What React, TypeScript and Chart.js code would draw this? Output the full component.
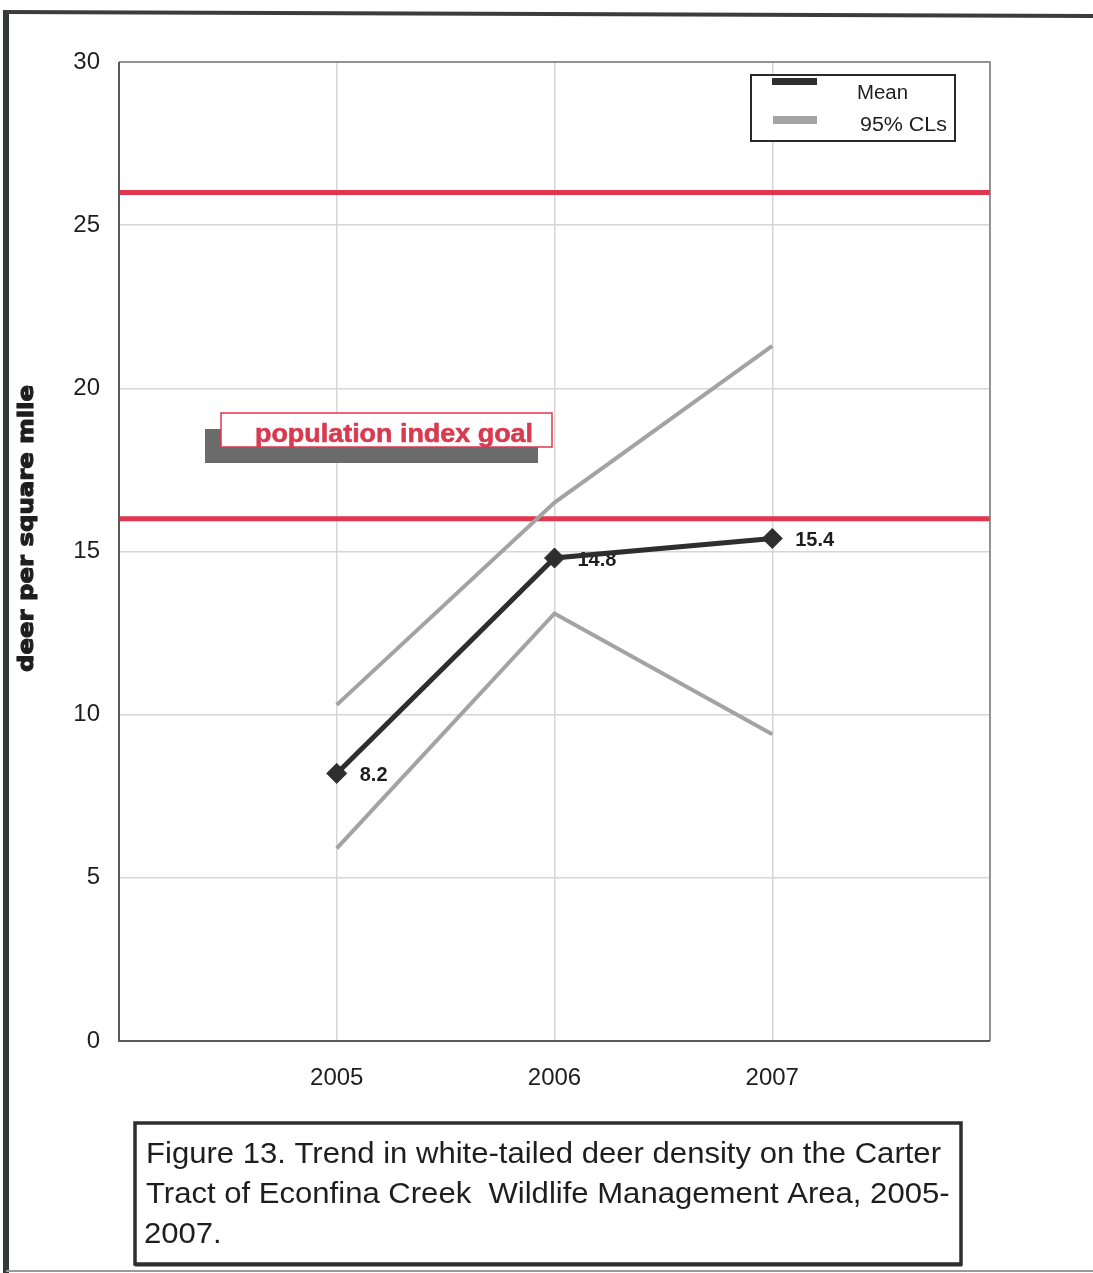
import React, { useEffect, useRef } from "react";
import { Chart, registerables } from "chart.js";

Chart.register(...registerables);

// ---------- data ----------
const YEARS = [2005, 2006, 2007];
const MEAN = [8.2, 14.8, 15.4];
const UPPER_CL = [10.3, 16.5, 21.3];
const LOWER_CL = [5.9, 13.1, 9.4];
const GOAL_LINES = [26, 16];
const X_RANGE = [2004, 2008];
const Y_RANGE = [0, 30];
const Y_STEP = 5;
const LEGEND_LABELS = ["Mean", "95% CLs"];
const Y_TITLE = "deer per square mile";
const GOAL_LABEL = "population index goal";
const CAPTION_LINES = [
  "Figure 13. Trend in white-tailed deer density on the Carter",
  "Tract of Econfina Creek  Wildlife Management Area, 2005-",
  "2007.",
];

// ---------- styles ----------
const FONT = "'Liberation Sans', Arial, Helvetica, sans-serif";
const MEAN_COLOR = "#2e2e2e";
const CL_COLOR = "#a3a3a3";
const RED = "#e2364f";
const TEXT = "#1e1e1e";
const W = 1093;
const H = 1273;

function fitText(
  ctx: CanvasRenderingContext2D,
  text: string,
  x: number,
  y: number,
  width: number,
  font: string,
  color: string,
  strokeW = 0
) {
  ctx.save();
  ctx.font = font;
  ctx.fillStyle = color;
  ctx.strokeStyle = color;
  ctx.textAlign = "left";
  ctx.textBaseline = "alphabetic";
  const w = ctx.measureText(text).width;
  ctx.translate(x, y);
  ctx.scale(width / w, 1);
  ctx.fillText(text, 0, 0);
  if (strokeW > 0) {
    ctx.lineWidth = strokeW;
    ctx.lineJoin = "round";
    ctx.strokeText(text, 0, 0);
  }
  ctx.restore();
}

const decorPlugin = {
  id: "decor",
  beforeDraw(chart: any) {
    const ctx = chart.ctx;
    ctx.save();
    ctx.fillStyle = "#ffffff";
    ctx.fillRect(0, 0, W, H);
    ctx.restore();
  },
  beforeDatasetsDraw(chart: any) {
    // value labels for the mean series (drawn under the line)
    const ctx = chart.ctx;
    const meta = chart.getDatasetMeta(0);
    ctx.save();
    ctx.font = `bold 20px ${FONT}`;
    ctx.fillStyle = TEXT;
    ctx.textAlign = "left";
    ctx.textBaseline = "middle";
    meta.data.forEach((pt: any, i: number) => {
      ctx.fillText(MEAN[i].toFixed(1), pt.x + 23, pt.y + 2);
    });
    ctx.restore();
  },
  afterDatasetsDraw(chart: any) {
    const ctx = chart.ctx;
    // goal label box with shadow
    ctx.save();
    ctx.fillStyle = "#6b6b6b";
    ctx.fillRect(205, 429, 333, 34);
    ctx.fillStyle = "#ffffff";
    ctx.fillRect(221, 413, 331, 34);
    ctx.strokeStyle = RED;
    ctx.lineWidth = 1.5;
    ctx.strokeRect(221, 413, 331, 34);
    ctx.restore();
    fitText(ctx, GOAL_LABEL, 255, 442, 278, `bold 26px ${FONT}`, "#d83a50", 0.6);
  },
  afterDraw(chart: any) {
    const ctx = chart.ctx;
    const a = chart.chartArea;
    // plot border
    ctx.save();
    ctx.strokeStyle = "#7a7a7a";
    ctx.lineWidth = 1.5;
    ctx.beginPath();
    ctx.moveTo(a.left, a.top);
    ctx.lineTo(a.right, a.top);
    ctx.lineTo(a.right, a.bottom);
    ctx.stroke();
    ctx.strokeStyle = "#5a5a5a";
    ctx.lineWidth = 2;
    ctx.beginPath();
    ctx.moveTo(a.left, a.top);
    ctx.lineTo(a.left, a.bottom);
    ctx.lineTo(a.right, a.bottom);
    ctx.stroke();
    ctx.restore();

    // legend
    ctx.save();
    ctx.fillStyle = "#ffffff";
    ctx.fillRect(751, 75, 204, 66);
    ctx.strokeStyle = "#2a2a2a";
    ctx.lineWidth = 2;
    ctx.strokeRect(751, 75, 204, 66);
    const ds = chart.data.datasets;
    ctx.fillStyle = ds[0].borderColor;
    ctx.fillRect(772, 78, 45, 7);
    ctx.fillStyle = ds[1].borderColor;
    ctx.fillRect(773, 116, 44, 8);
    ctx.restore();
    fitText(ctx, LEGEND_LABELS[0], 857, 99, 51, `20px ${FONT}`, TEXT);
    fitText(ctx, LEGEND_LABELS[1], 860, 131, 87, `20px ${FONT}`, TEXT);

    // y axis title
    ctx.save();
    ctx.translate(37, 672);
    ctx.rotate(-Math.PI / 2);
    ctx.font = `bold 22px 'DejaVu Sans', ${FONT}`;
    const tw = ctx.measureText(Y_TITLE).width;
    ctx.scale(287 / tw, 1);
    ctx.fillStyle = TEXT;
    ctx.strokeStyle = TEXT;
    ctx.lineWidth = 1.2;
    ctx.lineJoin = "round";
    ctx.textBaseline = "alphabetic";
    ctx.fillText(Y_TITLE, 0, -4);
    ctx.strokeText(Y_TITLE, 0, -4);
    ctx.restore();

    // outer frame
    ctx.save();
    ctx.strokeStyle = "#333a37";
    ctx.lineWidth = 6;
    ctx.beginPath();
    ctx.moveTo(6, 10);
    ctx.lineTo(6, H);
    ctx.stroke();
    ctx.strokeStyle = "#3c3c3c";
    ctx.lineWidth = 4;
    ctx.beginPath();
    ctx.moveTo(4, 12);
    ctx.lineTo(W, 16);
    ctx.stroke();
    ctx.strokeStyle = "#9a9a9a";
    ctx.lineWidth = 2;
    ctx.beginPath();
    ctx.moveTo(6, 1271);
    ctx.lineTo(W, 1271);
    ctx.stroke();
    ctx.restore();

    // caption box
    ctx.save();
    ctx.fillStyle = "#ffffff";
    ctx.fillRect(135, 1123, 826, 141);
    ctx.strokeStyle = "#2e2e2e";
    ctx.lineWidth = 3.5;
    ctx.strokeRect(135, 1123, 826, 141);
    ctx.lineWidth = 2;
    ctx.beginPath();
    ctx.moveTo(135, 1265.5);
    ctx.lineTo(962, 1265.5);
    ctx.stroke();
    ctx.restore();
    const f = `30px ${FONT}`;
    ctx.save();
    ctx.font = f;
    const s = 795 / ctx.measureText(CAPTION_LINES[0]).width;
    ctx.restore();
    const baselines = [1163, 1203, 1243];
    CAPTION_LINES.forEach((line, i) => {
      ctx.save();
      ctx.font = f;
      ctx.fillStyle = TEXT;
      ctx.textBaseline = "alphabetic";
      ctx.translate(i === 2 ? 144 : 146, baselines[i]);
      ctx.scale(s, 1);
      ctx.fillText(line, 0, 0);
      ctx.restore();
    });
  },
};

export default function App() {
  const ref = useRef<HTMLCanvasElement | null>(null);

  useEffect(() => {
    if (!ref.current) return;
    const pts = (arr: number[]) => arr.map((y, i) => ({ x: YEARS[i], y }));
    const datasets: any[] = [
      {
        label: LEGEND_LABELS[0],
        data: pts(MEAN),
        borderColor: MEAN_COLOR,
        backgroundColor: MEAN_COLOR,
        borderWidth: 5,
        pointStyle: "rectRot",
        pointRadius: 10,
        pointBorderWidth: 1,
      },
      {
        label: LEGEND_LABELS[1],
        data: pts(UPPER_CL),
        borderColor: CL_COLOR,
        borderWidth: 4,
        pointRadius: 0,
      },
      {
        label: LEGEND_LABELS[1] + " lower",
        data: pts(LOWER_CL),
        borderColor: CL_COLOR,
        borderWidth: 4,
        pointRadius: 0,
      },
      ...GOAL_LINES.map((g) => ({
        label: "goal " + g,
        data: X_RANGE.map((x) => ({ x, y: g })),
        borderColor: RED,
        borderWidth: 5,
        pointRadius: 0,
      })),
    ];

    const chart = new Chart(ref.current, {
      type: "line",
      data: { datasets },
      options: {
        animation: false,
        responsive: false,
        devicePixelRatio: 1,
        layout: { padding: { top: 62, right: W - 990, left: 0, bottom: 0 } },
        plugins: { legend: { display: false }, tooltip: { enabled: false } },
        scales: {
          x: {
            type: "linear",
            min: X_RANGE[0],
            max: X_RANGE[1],
            afterFit: (sc: any) => {
              sc.height = H - 1041;
            },
            ticks: {
              stepSize: 1,
              autoSkip: false,
              maxRotation: 0,
              padding: 23,
              color: TEXT,
              font: { family: FONT, size: 24 },
              callback: (v: any) => (YEARS.includes(Number(v)) ? String(v) : ""),
            },
            grid: { color: "#d6d6d6", lineWidth: 1.5, drawTicks: false },
            border: { display: false },
          },
          y: {
            min: Y_RANGE[0],
            max: Y_RANGE[1],
            afterFit: (sc: any) => {
              sc.width = 119;
            },
            ticks: {
              stepSize: Y_STEP,
              padding: 19,
              color: TEXT,
              font: { family: FONT, size: 24 },
            },
            grid: { color: "#d6d6d6", lineWidth: 1.5, drawTicks: false },
            border: { display: false },
          },
        },
      },
      plugins: [decorPlugin],
    } as any);
    return () => chart.destroy();
  }, []);

  return (
    <div style={{ position: "absolute", left: 0, top: 0, width: W, height: H }}>
      <canvas ref={ref} width={W} height={H} style={{ display: "block" }} />
    </div>
  );
}
